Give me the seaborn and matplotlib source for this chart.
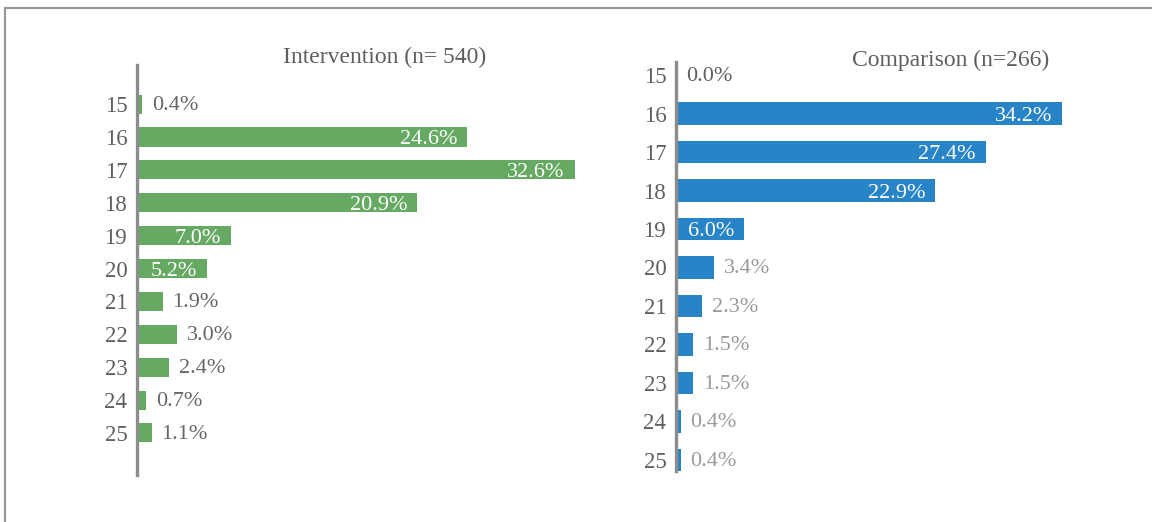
import matplotlib
matplotlib.use('Agg')
import matplotlib.pyplot as plt
from matplotlib.lines import Line2D
import numpy as np
import pandas as pd
import seaborn as sns

ages = ['15', '16', '17', '18', '19', '20', '21', '22', '23', '24', '25']
intervention = [0.4, 24.6, 32.6, 20.9, 7.0, 5.2, 1.9, 3.0, 2.4, 0.7, 1.1]
comparison = [0.0, 34.2, 27.4, 22.9, 6.0, 3.4, 2.3, 1.5, 1.5, 0.4, 0.4]
title_int = 'Intervention (n= 540)'
title_cmp = 'Comparison (n=266)'

sns.set_theme(style='white')
plt.rcParams['font.family'] = ['Liberation Serif', 'DejaVu Serif']

GREEN = '#66a962'
BLUE = '#2784c6'
TXT = '#5f5f5f'
SPINE = '#8c8c8c'
FS_TICK = 16.5
FS_VAL = 16

fig = plt.figure(figsize=(11.52, 5.22), dpi=100)

# page border (top and left)
fig.add_artist(Line2D([5 / 1152, 1], [1 - 8 / 522, 1 - 8 / 522], color='#9a9a9a', lw=1.6))
fig.add_artist(Line2D([5 / 1152, 5 / 1152], [0, 1 - 8 / 522], color='#9a9a9a', lw=1.6))


def panel(ax, vals, color, xmax, ylim, inside_min, out_color):
    df = pd.DataFrame({'age': ages, 'pct': vals})
    sns.barplot(data=df, x='pct', y='age', orient='h', color=color,
                saturation=1, width=0.58, ax=ax, linewidth=0)
    ax.set_xlim(0, xmax)
    ax.set_ylim(*ylim)
    ax.set_xlabel('')
    ax.set_ylabel('')
    ax.set_xticks([])
    for s in ['top', 'right', 'bottom']:
        ax.spines[s].set_visible(False)
    ax.spines['left'].set_color(SPINE)
    ax.spines['left'].set_linewidth(2.4)
    ax.tick_params(axis='y', length=0, pad=7, labelsize=FS_TICK, labelcolor=TXT)
    ax.patch.set_alpha(0)
    for i, v in enumerate(vals):
        lab = f'{v:.1f}%'
        if v >= inside_min:
            ax.annotate(lab, (v, i), xytext=(-7, -2), textcoords='offset points',
                        ha='right', va='center', color='white', fontsize=FS_VAL)
        else:
            c = TXT if v == 0 else out_color
            ax.annotate(lab, (v, i), xytext=(7, -1), textcoords='offset points',
                        ha='left', va='center', color=c, fontsize=FS_VAL)


ax1 = fig.add_axes([137 / 1152, 1 - 475 / 522, 510 / 1152, 410 / 522])
panel(ax1, intervention, GREEN, 38, (11.28, -1.19), 5, '#666666')

ax2 = fig.add_axes([676 / 1152, 1 - 471 / 522, 452 / 1152, 409 / 522])
panel(ax2, comparison, BLUE, 40, (10.29, -0.34), 5, '#9a9a9a')

fig.text(385 / 1152, 1 - 57 / 522, title_int, ha='center', va='center',
         fontsize=17, color=TXT)
fig.text(951 / 1152, 1 - 60 / 522, title_cmp, ha='center', va='center',
         fontsize=17, color=TXT)

fig.savefig('out.png', dpi=100)
